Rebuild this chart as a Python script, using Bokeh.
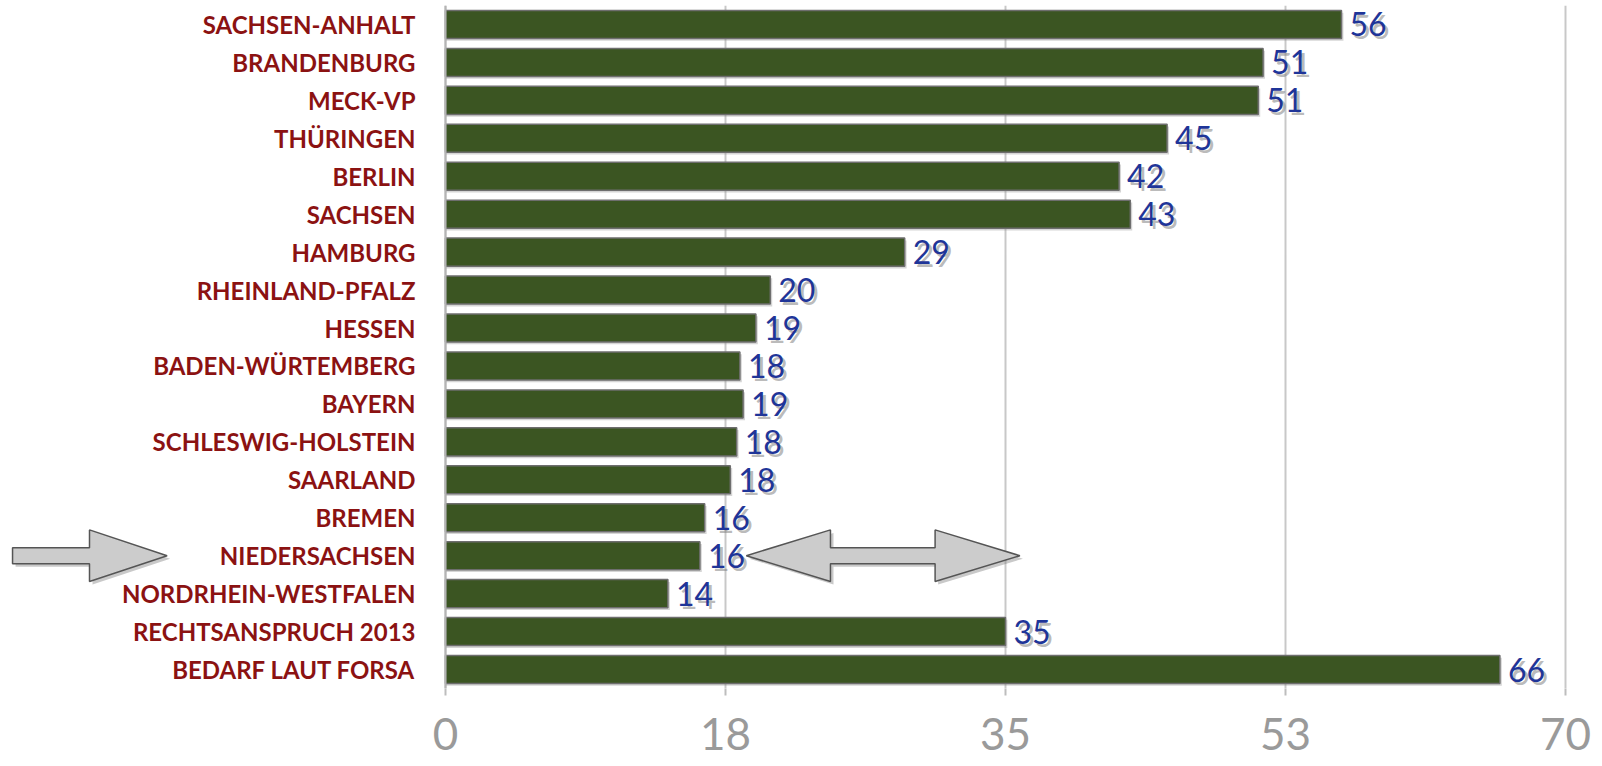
from bokeh.plotting import figure
from bokeh.models import Range1d, FixedTicker, LinearAxis, Grid, Span
from bokeh.core.properties import value
from bokeh.embed import file_html
from bokeh.resources import INLINE

# ---------------- data ----------------
categories = ["SACHSEN-ANHALT", "BRANDENBURG", "MECK-VP", "THÜRINGEN", "BERLIN",
              "SACHSEN", "HAMBURG", "RHEINLAND-PFALZ", "HESSEN", "BADEN-WÜRTEMBERG",
              "BAYERN", "SCHLESWIG-HOLSTEIN", "SAARLAND", "BREMEN", "NIEDERSACHSEN",
              "NORDRHEIN-WESTFALEN", "RECHTSANSPRUCH 2013", "BEDARF LAUT FORSA"]
values = [56.0, 51.1, 50.8, 45.1, 42.1, 42.8, 28.7, 20.3, 19.4, 18.4,
          18.6, 18.2, 17.8, 16.2, 15.9, 13.9, 35.0, 65.9]
value_labels = ["56", "51", "51", "45", "42", "43", "29", "20", "19", "18",
                "19", "18", "18", "16", "16", "14", "35", "66"]
tick_values = [0, 17.5, 35, 52.5, 70]
tick_labels = ["0", "18", "35", "53", "70"]

# ---------------- layout ----------------
W, H = 1602, 766
PX_PER_UNIT = 16.0
ZERO_PX = 445.0
x_start = -ZERO_PX / PX_PER_UNIT
x_end = (W - ZERO_PX) / PX_PER_UNIT

n = len(categories)
ypos = [i + 0.5 for i in range(n)]

p = figure(width=W, height=H,
           x_range=Range1d(x_start, x_end), y_range=Range1d(n, 0),
           output_backend="svg", toolbar_location=None,
           x_axis_location=None, y_axis_location=None,
           min_border_left=0, min_border_right=0, min_border_top=5, min_border_bottom=78,
           outline_line_color=None, background_fill_color="white",
           border_fill_color="white")
p.center = [r for r in p.center if not isinstance(r, Grid)]

ticker = FixedTicker(ticks=tick_values)
xaxis = LinearAxis(ticker=ticker,
                   major_label_overrides={t: l for t, l in zip(tick_values, tick_labels)})
xaxis.axis_line_color = None
xaxis.major_tick_in = 0
xaxis.major_tick_out = 7
xaxis.major_tick_line_color = "#bdbdbd"
xaxis.major_tick_line_width = 2
xaxis.minor_tick_line_color = None
xaxis.major_label_text_font = "Lato"
xaxis.major_label_text_font_size = "44px"
xaxis.major_label_text_color = "#9a9a9a"
xaxis.major_label_text_line_height = 0.6
xaxis.major_label_standoff = 22
p.add_layout(xaxis, "below")

grid = Grid(dimension=0, ticker=ticker, grid_line_color="#c8c8c8", grid_line_width=2)
p.add_layout(grid, "center")
p.add_layout(Span(location=0, dimension="height", line_color="#b4b4b4", line_width=2))

# bar shadows and bars
p.hbar(y=[y + 0.06 for y in ypos], left=0, right=[v + 0.12 for v in values], height=0.74,
       fill_color="#888888", fill_alpha=0.35, line_color=None)
p.hbar(y=ypos, left=0, right=values, height=0.74,
       fill_color="#3b5522", line_color="#6e6e6e", line_width=1.5)

# value labels with shadow
p.text(x=values, y=ypos, text=value_labels, x_offset=11, y_offset=3,
       text_baseline="middle", text_align="left",
       text_font=value("Lato"), text_font_size="32px",
       text_color="#808080", text_alpha=0.55)
p.text(x=values, y=ypos, text=value_labels, x_offset=8,
       text_baseline="middle", text_align="left",
       text_font=value("Lato"), text_font_size="32px", text_color="#1f3598")

# category labels
p.text(x=[-30 / PX_PER_UNIT] * n, y=ypos, text=categories,
       text_baseline="middle", text_align="right",
       text_font=value("Lato"), text_font_style="bold", text_font_size="24px",
       text_color="#8b1212")

# ---------------- arrows (annotation) ----------------
row = categories.index("NIEDERSACHSEN") + 0.5
shaft_h, head_h = 0.21, 0.68

left_tail, left_neck, left_tip = -27.06, -22.25, -17.4
left_xs = [left_tail, left_neck, left_neck, left_tip, left_neck, left_neck, left_tail]
left_ys = [row - shaft_h, row - shaft_h, row - head_h, row, row + head_h, row + shaft_h, row + shaft_h]

d_ltip, d_lneck, d_rneck, d_rtip = 18.8, 24.06, 30.6, 35.9
dbl_xs = [d_ltip, d_lneck, d_lneck, d_rneck, d_rneck, d_rtip, d_rneck, d_rneck, d_lneck, d_lneck]
dbl_ys = [row, row - head_h, row - shaft_h, row - shaft_h, row - head_h, row,
          row + head_h, row + shaft_h, row + shaft_h, row + head_h]

sx, sy = 0.19, 0.08
p.patches(xs=[[x + sx for x in left_xs], [x + sx for x in dbl_xs]],
          ys=[[y + sy for y in left_ys], [y + sy for y in dbl_ys]],
          fill_color="#777777", fill_alpha=0.4, line_color=None)
p.patches(xs=[left_xs, dbl_xs], ys=[left_ys, dbl_ys],
          fill_color="#cccccc", line_color="#555555", line_width=1.5)

open("out.html", "w").write(file_html(p, INLINE))
